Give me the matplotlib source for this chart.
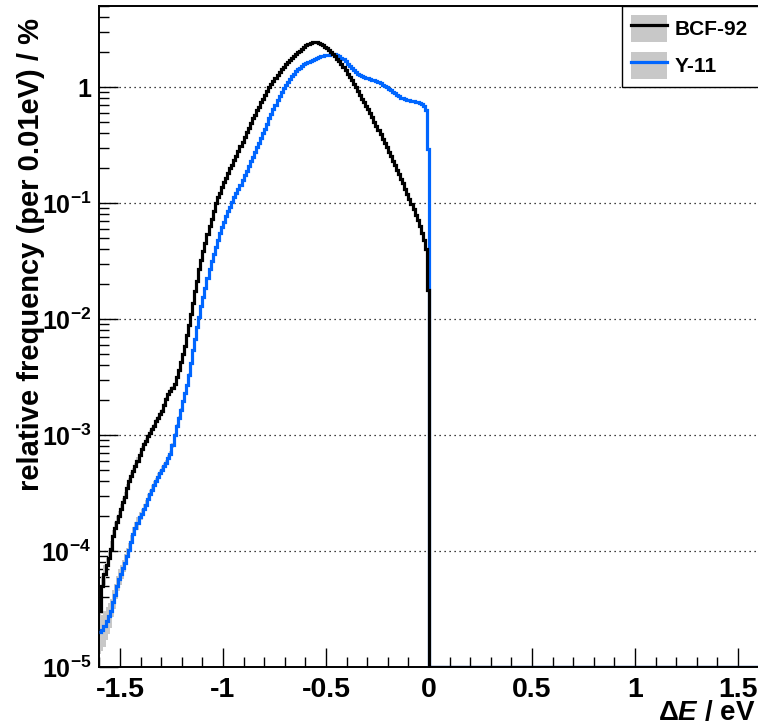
import numpy as np
import matplotlib
matplotlib.use("Agg")
import matplotlib.pyplot as plt
from matplotlib.ticker import LogLocator, MultipleLocator, FuncFormatter, NullFormatter
from matplotlib.patches import Patch
from matplotlib.lines import Line2D
from matplotlib.legend_handler import HandlerTuple

plt.rcParams.update({
    "font.family": ["Liberation Sans", "DejaVu Sans"],
    "font.weight": "bold",
    "mathtext.fontset": "custom",
    "mathtext.rm": "Liberation Sans:bold",
    "mathtext.bf": "Liberation Sans:bold",
    "mathtext.it": "Liberation Sans:bold:italic",
    "mathtext.default": "bf",
    "axes.unicode_minus": False,
})

# Histogram binning: 0.01 eV bins from -1.6 eV to +1.6 eV
BIN_WIDTH = 0.01
E_MIN, E_MAX = -1.6, 1.6
N_BINS = 320
N_EVENTS = 4.0e7  # simulated photons per sample (sets the statistical band)

series_names = ["BCF-92", "Y-11"]

# log10 of relative frequency (% per 0.01 eV), bins from -1.6 eV up to 0 eV
bcf92_log10 = [
    -4.52, -4.30, -4.20, -4.12, -4.06, -3.98, -3.87, -3.80, -3.75, -3.70,
    -3.64, -3.58, -3.53, -3.46, -3.40, -3.35, -3.31, -3.27, -3.22, -3.17,
    -3.12, -3.08, -3.05, -3.01, -2.98, -2.95, -2.92, -2.88, -2.85, -2.82,
    -2.79, -2.74, -2.69, -2.65, -2.62, -2.59, -2.56, -2.50, -2.44, -2.37,
    -2.30, -2.23, -2.14, -2.05, -1.96, -1.86, -1.76, -1.67, -1.57, -1.49,
    -1.41, -1.34, -1.27, -1.20, -1.14, -1.07, -1.00, -0.95, -0.91, -0.86,
    -0.82, -0.78, -0.74, -0.70, -0.67, -0.63, -0.59, -0.55, -0.51, -0.47,
    -0.43, -0.39, -0.35, -0.31, -0.27, -0.24, -0.20, -0.17, -0.13, -0.10,
    -0.07, -0.03, 0.00, 0.03, 0.055, 0.08, 0.105, 0.13, 0.155, 0.175,
    0.195, 0.215, 0.235, 0.25, 0.27, 0.285, 0.30, 0.315, 0.33, 0.345,
    0.36, 0.37, 0.38, 0.388, 0.388, 0.386, 0.38, 0.372, 0.362, 0.35,
    0.336, 0.32, 0.303, 0.285, 0.265, 0.245, 0.222, 0.198, 0.172, 0.145,
    0.117, 0.088, 0.058, 0.028, -0.003, -0.035, -0.067, -0.099, -0.13, -0.162,
    -0.193, -0.224, -0.26, -0.297, -0.334, -0.371, -0.408, -0.445, -0.48, -0.517,
    -0.556, -0.595, -0.634, -0.673, -0.712, -0.751, -0.79, -0.83, -0.875, -0.92,
    -0.965, -1.01, -1.055, -1.10, -1.15, -1.20, -1.26, -1.32, -1.40, -1.75,
]

y11_log10 = [
    -4.70, -4.68, -4.65, -4.60, -4.56, -4.52, -4.44, -4.38, -4.30, -4.24,
    -4.20, -4.15, -4.10, -4.04, -3.99, -3.92, -3.85, -3.80, -3.76, -3.71,
    -3.68, -3.64, -3.60, -3.55, -3.51, -3.47, -3.43, -3.40, -3.36, -3.33,
    -3.30, -3.27, -3.24, -3.20, -3.16, -3.09, -3.00, -2.92, -2.85, -2.78,
    -2.71, -2.64, -2.57, -2.48, -2.38, -2.27, -2.17, -2.07, -1.98, -1.89,
    -1.81, -1.73, -1.65, -1.57, -1.50, -1.44, -1.38, -1.32, -1.26, -1.21,
    -1.16, -1.11, -1.07, -1.03, -0.99, -0.95, -0.91, -0.88, -0.84, -0.80,
    -0.76, -0.72, -0.68, -0.64, -0.60, -0.56, -0.52, -0.48, -0.44, -0.40,
    -0.36, -0.315, -0.27, -0.23, -0.19, -0.15, -0.115, -0.08, -0.045, -0.012,
    0.017, 0.045, 0.07, 0.093, 0.115, 0.135, 0.152, 0.168, 0.183, 0.196,
    0.207, 0.218, 0.228, 0.237, 0.245, 0.252, 0.258, 0.264, 0.269, 0.273,
    0.277, 0.28, 0.282, 0.283, 0.282, 0.277, 0.268, 0.255, 0.24, 0.222,
    0.203, 0.183, 0.163, 0.145, 0.13, 0.117, 0.106, 0.097, 0.089, 0.082,
    0.075, 0.068, 0.063, 0.058, 0.05, 0.042, 0.033, 0.022, 0.011, 0.0,
    -0.013, -0.027, -0.041, -0.055, -0.068, -0.08, -0.09, -0.098, -0.104, -0.109,
    -0.113, -0.117, -0.121, -0.126, -0.132, -0.139, -0.147, -0.16, -0.20, -0.53,
]

# no entries above 0 eV
empty_bins = [0.0] * 160

x_ticks = [-1.5, -1.0, -0.5, 0.0, 0.5, 1.0, 1.5]

Y_MIN, Y_MAX = 1e-5, 5.0
LINE_COLORS = ["#000000", "#0066ff"]
BAND_COLOR = "#c8c8c8"
LW = 2.3
FS_X, FS_Y, FS_TITLE = 20.5, 18, 21

edges = np.linspace(E_MIN, E_MAX, N_BINS + 1)
n_neg = len(bcf92_log10)
edges_neg = edges[: n_neg + 1]

fig = plt.figure(figsize=(7.58, 7.27), dpi=100)
ax = fig.add_axes([0.1311, 0.0825, 0.8697, 0.9092])
ax.set_yscale("log")

all_series = []
for logs in (bcf92_log10, y11_log10):
    neg = 10.0 ** np.asarray(logs)
    all_series.append((neg, np.concatenate([neg, empty_bins])))

# statistical error band (one rectangle per bin)
for neg, _ in all_series:
    rel = 1.0 / np.sqrt(neg / 100.0 * N_EVENTS)
    hi = neg * (1 + rel)
    lo = np.clip(neg * (1 - rel), Y_MIN * 1e-3, None)
    ax.stairs(hi, edges_neg, baseline=lo, fill=True, color=BAND_COLOR,
              lw=0, zorder=1)

# histogram contours: Y-11 below, BCF-92 on top
for idx in (1, 0):
    full = all_series[idx][1]
    ax.stairs(np.clip(full, Y_MIN, None), edges, baseline=None,
              color=LINE_COLORS[idx], lw=LW, zorder=3 + (1 - idx))

ax.set_xlim(E_MIN, E_MAX)
ax.set_ylim(Y_MIN, Y_MAX)

ax.xaxis.set_major_locator(plt.FixedLocator(x_ticks))
ax.xaxis.set_minor_locator(MultipleLocator(0.1))
ax.xaxis.set_major_formatter(FuncFormatter(lambda v, p: f"{v:g}"))
ax.yaxis.set_major_locator(LogLocator(base=10, numticks=20))
ax.yaxis.set_minor_locator(LogLocator(base=10, subs=np.arange(2, 10), numticks=20))
ax.yaxis.set_minor_formatter(NullFormatter())


def ylab(v, pos):
    e = int(round(np.log10(v)))
    return "1" if e == 0 else r"$10^{%d}$" % e


ax.yaxis.set_major_formatter(FuncFormatter(ylab))

ax.tick_params(which="both", direction="in", top=False, right=False, width=1.0)
ax.tick_params(which="major", length=13.5)
ax.tick_params(which="minor", length=7)
ax.tick_params(axis="x", which="major", labelsize=FS_X, pad=7)
ax.tick_params(axis="y", which="major", labelsize=FS_Y, pad=6)
for s in ax.spines.values():
    s.set_linewidth(1.4)

ax.yaxis.grid(True, which="major", linestyle=(0, (1, 3)), color="black", lw=0.9)
ax.set_axisbelow(True)

ax.set_ylabel("relative frequency (per 0.01eV) / %", fontsize=FS_TITLE,
              fontweight="bold", loc="top")
ax.yaxis.set_label_coords(-0.083, 0.982)
ax.set_xlabel(r"Δ$\mathit{E}$ / eV", fontsize=20, fontweight="bold", loc="right")
ax.xaxis.set_label_coords(0.995, -0.05)

handles = [(Patch(facecolor=BAND_COLOR, edgecolor="none"),
            Line2D([], [], color=c, lw=LW)) for c in LINE_COLORS]
leg_left = 0.7928
leg = ax.legend(handles, series_names,
                handler_map={tuple: HandlerTuple(ndivide=1, pad=0)},
                loc="upper left", bbox_to_anchor=(leg_left, 0.0, 1.002 - leg_left, 1.0),
                mode="expand", borderaxespad=0,
                fancybox=False, framealpha=1, edgecolor="black",
                prop={"size": 15, "weight": "bold"},
                handlelength=1.75, handleheight=1.6, handletextpad=0.35,
                borderpad=0.42, labelspacing=0.5)
leg.get_frame().set_linewidth(1.0)
leg.set_zorder(10)

fig.savefig("out.png", dpi=100)
